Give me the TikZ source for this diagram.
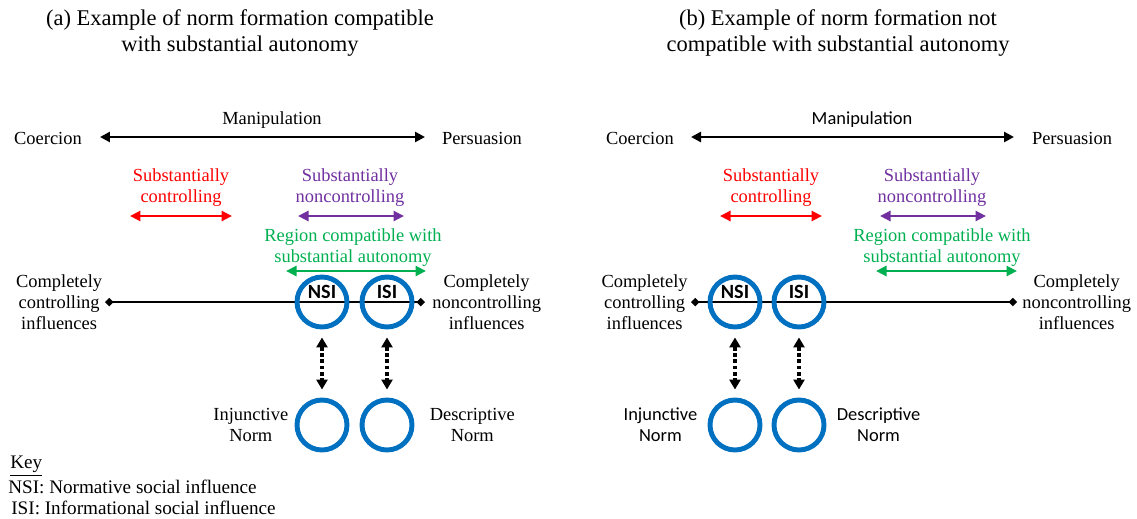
\documentclass[tikz,border=0pt]{standalone}
\usepackage{fontspec}
\setmainfont{Liberation Serif}
\newfontfamily\calfont{Carlito}
\usetikzlibrary{arrows.meta,positioning,calc}
\definecolor{ctlred}{RGB}{255,0,0}
\definecolor{noncpurple}{RGB}{112,48,160}
\definecolor{autgreen}{RGB}{0,176,80}
\definecolor{normblue}{RGB}{0,112,192}

\begin{document}
\begin{tikzpicture}[x=0.02cm, y=-0.02cm,
  txt/.style={align=center, inner sep=0pt, font=\rmfamily\fontsize{10.5}{12}\selectfont},
  stxt/.style={align=center, inner sep=0pt, font=\calfont\fontsize{10.5}{12}\selectfont},
  ttl/.style={align=center, inner sep=0pt, font=\rmfamily\fontsize{12.8}{14.7}\selectfont},
  keytxt/.style={anchor=west, inner sep=0pt, font=\rmfamily\fontsize{10.9}{12.3}\selectfont},
  ring/.style={circle, draw=normblue, line width=2.8pt, minimum size=1cm, inner sep=0pt},
  tag/.style={inner sep=0pt, font=\calfont\bfseries\fontsize{11.5}{12}\selectfont},
  span/.style={{Triangle[length=2mm,width=2mm]}-{Triangle[length=2mm,width=2mm]}, line width=1.6pt},
  band/.style={{Triangle[length=2.1mm,width=2mm]}-{Triangle[length=2.1mm,width=2mm]}, line width=1.7pt},
  axis/.style={{Diamond[length=1.7mm,width=1.7mm]}-{Diamond[length=1.7mm,width=1.7mm]}, line width=1.7pt},
  link/.style={{Triangle[length=2mm,width=2.2mm]}-{Triangle[length=2mm,width=2.2mm]}, line width=2.1pt, dash pattern=on 2.1pt off 1.5pt, shorten <=1.6mm, shorten >=1.6mm},
  node distance=0.08cm]
\useasboundingbox (0,0) rectangle (1137,518);

% (a) compatible
\node[ttl] (ttlA) at (240,33) {(a) Example of norm formation compatible\\with substantial autonomy};
\node[txt] (coerA) at (48,138) {Coercion};
\node[txt] (persA) at (482,138) {Persuasion};
\node[txt] (manA) at (272,120) {Manipulation};
\coordinate (mlA) at (100,137);
\coordinate (mrA) at (425,137);
\draw[span] (mlA) -- (mrA);

\node[txt, text=ctlred] (ctlA) at (181,188) {Substantially\\controlling};
\node[txt, text=noncpurple] (noncA) at (350,188) {Substantially\\noncontrolling};
\node[txt, text=autgreen] (autA) at (353,248) {Region compatible with\\substantial autonomy};
\coordinate (c1A) at (130,216); \coordinate (c2A) at (232,216);
\coordinate (n1A) at (298,216); \coordinate (n2A) at (404,216);
\coordinate (g1A) at (286,271); \coordinate (g2A) at (426,271);
\draw[band, ctlred] (c1A) -- (c2A);
\draw[band, noncpurple] (n1A) -- (n2A);
\draw[band, autgreen] (g1A) -- (g2A);

\coordinate (lA) at (105,302);
\coordinate (rA) at (425,302);
\draw[axis] (lA) -- (rA);
\node[txt, left=0.05cm of lA] (ccA) {Completely\\controlling\\influences};
\node[txt, right=0.14cm of rA] (cnA) {Completely\\noncontrolling\\influences};

\node[ring] (nsiA) at (322,302) {};
\node[ring] (isiA) at (387,302) {};
\node[tag] at ($(nsiA.center)+(0,-10)$) {NSI};
\node[tag] at ($(isiA.center)+(0,-10)$) {ISI};
\node[ring] (injA) at (322,425) {};
\node[ring] (desA) at (387,425) {};
\draw[link] (nsiA) -- (injA);
\draw[link] (isiA) -- (desA);
\node[txt, left=0.12cm of injA] (injtA) {Injunctive\\Norm};
\node[txt, right=0.3cm of desA] (destA) {Descriptive\\Norm};

\node[keytxt] (keyh) at (10,466) {\underline{Key}};
\node[keytxt] (keynsi) at (8,487) {NSI: Normative social influence};
\node[keytxt] (keyisi) at (11,508) {ISI: Informational social influence};

% (b) not compatible
\node[ttl] (ttlB) at (838,33) {(b) Example of norm formation not\\compatible with substantial autonomy};
\node[txt] (coerB) at (640,138) {Coercion};
\node[txt] (persB) at (1072,138) {Persuasion};
\node[stxt] (manB) at (862,120) {Manipulation};
\coordinate (mlB) at (691,137);
\coordinate (mrB) at (1014,137);
\draw[span] (mlB) -- (mrB);

\node[txt, text=ctlred] (ctlB) at (771,188) {Substantially\\controlling};
\node[txt, text=noncpurple] (noncB) at (932,188) {Substantially\\noncontrolling};
\node[txt, text=autgreen] (autB) at (942,248) {Region compatible with\\substantial autonomy};
\coordinate (c1B) at (720,216); \coordinate (c2B) at (822,216);
\coordinate (n1B) at (880,216); \coordinate (n2B) at (986,216);
\coordinate (g1B) at (876,271); \coordinate (g2B) at (1017,271);
\draw[band, ctlred] (c1B) -- (c2B);
\draw[band, noncpurple] (n1B) -- (n2B);
\draw[band, autgreen] (g1B) -- (g2B);

\coordinate (lB) at (691,302);
\coordinate (rB) at (1017,302);
\draw[axis] (lB) -- (rB);
\node[txt, left=0.06cm of lB] (ccB) {Completely\\controlling\\influences};
\node[txt, right=0.1cm of rB] (cnB) {Completely\\noncontrolling\\influences};

\node[ring] (nsiB) at (735,302) {};
\node[ring] (isiB) at (799,302) {};
\node[tag] at ($(nsiB.center)+(0,-10)$) {NSI};
\node[tag] at ($(isiB.center)+(0,-10)$) {ISI};
\node[ring] (injB) at (735,425) {};
\node[ring] (desB) at (799,425) {};
\draw[link] (nsiB) -- (injB);
\draw[link] (isiB) -- (desB);
\node[stxt, left=0.2cm of injB] (injtB) {Injunctive\\Norm};
\node[stxt, right=0.2cm of desB] (destB) {Descriptive\\Norm};
\end{tikzpicture}
\end{document}
